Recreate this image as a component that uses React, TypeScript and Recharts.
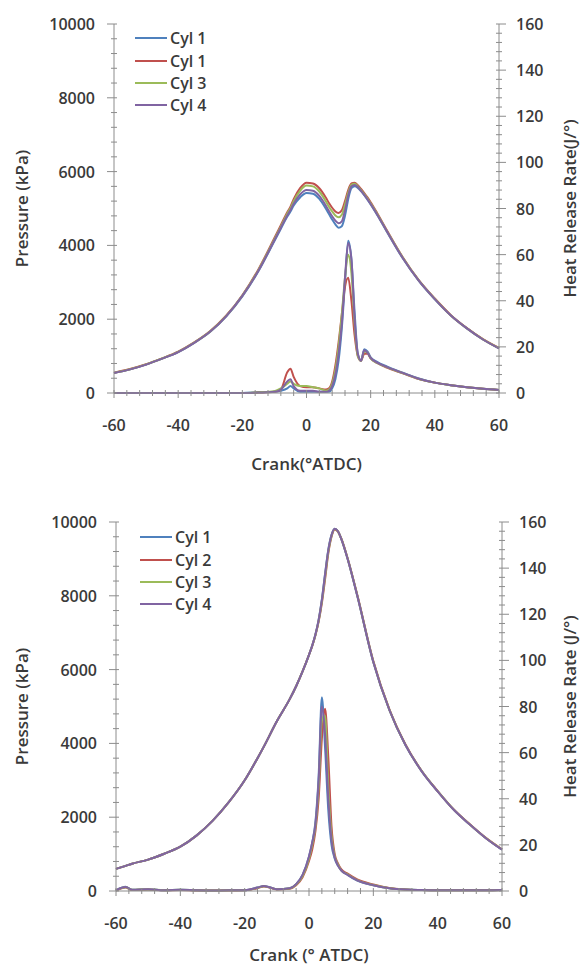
import React from "react";
import { LineChart, Line, XAxis, YAxis, Legend } from "recharts";

const font = "'Open Sans', 'Liberation Sans', sans-serif";
const textColor = "#3a3a3a";
const axisColor = "#8c8c8c";

const cylColors = ["#4F81BD", "#C0504D", "#9BBB59", "#8064A2"];
const names1 = ["Cyl 1", "Cyl 1", "Cyl 3", "Cyl 4"];
const names2 = ["Cyl 1", "Cyl 2", "Cyl 3", "Cyl 4"];

const crankTicks = [-60, -40, -20, 0, 20, 40, 60];
const pressureTicks = [0, 2000, 4000, 6000, 8000, 10000];
const hrrTicks = [0, 20, 40, 60, 80, 100, 120, 140, 160];

// top chart
const crank1 = [-60, -55, -50, -45, -40, -35, -30, -25, -20, -15, -10, -8, -6, -5, -4, -2, 0, 2, 4, 6, 7, 8, 9, 10, 11, 12, 13, 14, 15, 16, 17, 18, 19, 20, 22, 25, 30, 35, 40, 45, 50, 55, 60];
const pCyl1a = [540, 640, 770, 930, 1110, 1360, 1660, 2080, 2620, 3300, 4120, 4450, 4780, 4920, 5080, 5300, 5420, 5400, 5260, 5000, 4850, 4700, 4570, 4480, 4520, 4800, 5250, 5550, 5600, 5560, 5470, 5360, 5240, 5110, 4830, 4380, 3650, 3040, 2540, 2100, 1750, 1450, 1210];
const pCyl1b = [550, 650, 780, 940, 1120, 1370, 1680, 2100, 2650, 3350, 4200, 4550, 4900, 5050, 5250, 5550, 5700, 5680, 5550, 5300, 5150, 5020, 4920, 4880, 4950, 5200, 5500, 5680, 5700, 5630, 5530, 5420, 5300, 5170, 4880, 4420, 3680, 3060, 2560, 2110, 1760, 1460, 1220];
const pCyl3 = [545, 645, 775, 935, 1115, 1365, 1670, 2090, 2640, 3330, 4170, 4510, 4860, 5010, 5200, 5480, 5620, 5600, 5460, 5200, 5050, 4920, 4810, 4760, 4830, 5100, 5430, 5640, 5670, 5600, 5500, 5390, 5270, 5140, 4860, 4400, 3670, 3050, 2550, 2100, 1750, 1455, 1215];
const pCyl4 = [540, 640, 770, 930, 1110, 1360, 1665, 2085, 2630, 3310, 4140, 4480, 4810, 4960, 5130, 5380, 5500, 5480, 5340, 5080, 4930, 4790, 4670, 4600, 4650, 4950, 5350, 5600, 5640, 5580, 5480, 5370, 5250, 5120, 4840, 4390, 3660, 3045, 2545, 2100, 1750, 1450, 1210];
const hCyl1a = [0, 0, 0, 0, 0, 0, 0, 0, 0, 0.3, 0.5, 1, 2, 3, 2, 0.5, 0.5, 0.5, 0.5, 0.5, 0.5, 2, 6, 14, 28, 48, 66, 58, 35, 17, 14, 19, 18, 15.5, 13.5, 11.5, 8.8, 6.3, 4.5, 3.4, 2.5, 1.8, 1.3];
const hCyl1b = [0, 0, 0, 0, 0, 0, 0, 0, 0, 0.2, 0.5, 1.5, 9, 10.5, 7, 3, 2.5, 2.5, 2, 1.5, 2, 5, 12, 22, 34, 46, 50, 40, 25, 16, 14, 17, 17, 15, 13, 11, 8.5, 6, 4.5, 3.4, 2.5, 1.8, 1.3];
const hCyl3 = [0, 0, 0, 0, 0, 0, 0, 0, 0, 0.3, 0.8, 2, 4, 5, 4, 3, 3, 2.5, 2, 1, 1.5, 4, 10, 20, 34, 50, 60, 52, 30, 16, 14, 18, 17.5, 15, 13, 11.2, 8.6, 6.1, 4.5, 3.4, 2.5, 1.8, 1.3];
const hCyl4 = [0, 0, 0, 0, 0, 0, 0, 0, 0, 0.2, 0.5, 1.5, 5, 6, 3, 1, 1, 1, 0.5, 0.5, 1, 3, 8, 17, 30, 50, 65, 58, 32, 17, 14, 18.5, 17.5, 15.2, 13.2, 11.3, 8.7, 6.2, 4.5, 3.4, 2.5, 1.8, 1.3];

// bottom chart
const crank2 = [-60, -57, -55, -50, -45, -40, -35, -30, -25, -20, -16, -14, -10, -6, -4, -2, 0, 1, 2, 3, 4, 5, 6, 7, 8, 9, 10, 12, 15, 20, 25, 30, 35, 40, 45, 50, 55, 60];
const pB1 = [600, 680, 740, 850, 1010, 1200, 1500, 1900, 2400, 3000, 3600, 3920, 4600, 5200, 5550, 5950, 6400, 6650, 6950, 7350, 7900, 8600, 9250, 9650, 9820, 9750, 9550, 9000, 8000, 6200, 4900, 3950, 3250, 2700, 2200, 1800, 1430, 1120];
const pB2 = [600, 680, 740, 850, 1010, 1200, 1500, 1900, 2400, 3000, 3600, 3920, 4600, 5200, 5550, 5950, 6400, 6640, 6930, 7300, 7800, 8450, 9150, 9600, 9800, 9740, 9560, 9020, 8030, 6230, 4920, 3970, 3260, 2710, 2210, 1810, 1440, 1130];
const pB3 = [600, 680, 740, 850, 1010, 1200, 1500, 1900, 2400, 3000, 3600, 3920, 4600, 5200, 5550, 5950, 6400, 6645, 6940, 7320, 7850, 8520, 9200, 9620, 9810, 9745, 9555, 9010, 8015, 6215, 4910, 3960, 3255, 2705, 2205, 1805, 1435, 1125];
const pB4 = [600, 680, 740, 850, 1010, 1200, 1500, 1900, 2400, 3000, 3600, 3920, 4600, 5200, 5550, 5950, 6400, 6650, 6950, 7340, 7880, 8580, 9230, 9640, 9815, 9750, 9550, 9005, 8005, 6205, 4905, 3955, 3250, 2700, 2200, 1800, 1430, 1120];
const hB1 = [0.3, 1.8, 0.5, 0.8, 0.3, 0.5, 0.3, 0.2, 0.3, 0.3, 1.5, 2.2, 0.8, 1.2, 3, 7, 15, 21, 30, 50, 84, 62, 35, 20, 14, 11, 9, 7, 4.5, 2.5, 1.2, 0.6, 0.4, 0.3, 0.3, 0.3, 0.3, 0.4];
const hB2 = [0.2, 1.5, 0.4, 0.6, 0.3, 0.4, 0.2, 0.2, 0.2, 0.3, 1.2, 2, 0.7, 1, 2.5, 6, 13, 18, 26, 40, 66, 79, 58, 28, 16, 12, 9.5, 7.5, 5, 2.8, 1.3, 0.7, 0.4, 0.3, 0.3, 0.3, 0.3, 0.4];
const hB3 = [0.3, 1.6, 0.5, 0.7, 0.3, 0.5, 0.3, 0.2, 0.3, 0.3, 1.4, 2.1, 0.8, 1.1, 2.8, 6.5, 14, 20, 28, 45, 74, 76, 45, 24, 15, 11.5, 9, 7.2, 4.7, 2.6, 1.2, 0.6, 0.4, 0.3, 0.3, 0.3, 0.3, 0.4];
const hB4 = [0.3, 1.7, 0.5, 0.8, 0.3, 0.5, 0.3, 0.2, 0.3, 0.3, 1.5, 2.2, 0.8, 1.2, 3, 7, 15, 21, 29, 48, 80, 68, 40, 22, 14.5, 11, 9, 7, 4.6, 2.5, 1.2, 0.6, 0.4, 0.3, 0.3, 0.3, 0.3, 0.4];

const buildRows = (crank: number[], p: number[][], h: number[][]) =>
  crank.map((c, i) => ({
    crank: c,
    p0: p[0][i], p1: p[1][i], p2: p[2][i], p3: p[3][i],
    h0: h[0][i], h1: h[1][i], h2: h[2][i], h3: h[3][i],
  }));

const rows1 = buildRows(crank1, [pCyl1a, pCyl1b, pCyl3, pCyl4], [hCyl1a, hCyl1b, hCyl3, hCyl4]);
const rows2 = buildRows(crank2, [pB1, pB2, pB3, pB4], [hB1, hB2, hB3, hB4]);

// major ticks get labels, minor ticks (1/5 of major step) only a small mark
const withMinor = (major: number[]) => {
  const step = (major[1] - major[0]) / 5;
  const out: number[] = [];
  for (let v = major[0]; v <= major[major.length - 1] + 1e-9; v += step) out.push(Math.round(v * 100) / 100);
  return out;
};

const tickText = { fontFamily: font, fontSize: 16, fontWeight: 600, fill: textColor };

const makeTick = (side: "bottom" | "left" | "right", major: number[]) => (props: any) => {
  const { x, y, payload } = props;
  const isMajor = major.includes(payload.value);
  if (side === "bottom") {
    return (
      <g>
        <line x1={x} x2={x} y1={y - 3} y2={y + (isMajor ? 5 : 3)} stroke={axisColor} />
        {isMajor && <text x={x} y={y + 32} textAnchor="middle" dominantBaseline="central" {...tickText}>{payload.value}</text>}
      </g>
    );
  }
  if (side === "left") {
    return (
      <g>
        <line x1={isMajor ? x - 7 : x - 3} x2={x + 3} y1={y} y2={y} stroke={axisColor} />
        {isMajor && <text x={x - 19} y={y} textAnchor="end" dominantBaseline="central" {...tickText}>{payload.value}</text>}
      </g>
    );
  }
  return (
    <g>
      <line x1={x - 3} x2={isMajor ? x + 7 : x + 3} y1={y} y2={y} stroke={axisColor} />
      {isMajor && <text x={x + 17} y={y} textAnchor="start" dominantBaseline="central" {...tickText}>{payload.value}</text>}
    </g>
  );
};

const LegendBox = ({ names }: { names: string[] }) => (
  <div style={{ fontFamily: font, fontSize: 16, fontWeight: 600, color: textColor, lineHeight: 1 }}>
    {names.map((n, i) => (
      <div key={i} style={{ display: "flex", alignItems: "center", height: 22.4 }}>
        <span style={{ display: "inline-block", width: 32, height: 2, background: cylColors[i], marginRight: 3 }} />
        <span>{n}</span>
      </div>
    ))}
  </div>
);

type PanelProps = {
  rows: any[];
  names: string[];
  xTitle: string;
  yRightTitle: string;
  height: number;
  top: number;
  left: number;
  right: number;
  bottom: number;
  legendLeft: number;
  legendTop: number;
  xTitleOffset: number;
};

const EnginePanel = ({ rows, names, xTitle, yRightTitle, height, top, left, right, bottom, legendLeft, legendTop, xTitleOffset }: PanelProps) => (
  <LineChart width={588} height={height} data={rows} margin={{ top, left: 0, right: 0, bottom: 0 }}>
    <XAxis
      dataKey="crank"
      type="number"
      domain={[-60, 60]}
      ticks={withMinor(crankTicks)}
      interval={0}
      tickSize={0}
      tickMargin={0}
      tick={makeTick("bottom", crankTicks)}
      axisLine={{ stroke: axisColor }}
      height={bottom}
      label={{ value: xTitle, position: "insideBottom", offset: xTitleOffset, style: { fontFamily: font, fontSize: 17, fontWeight: 600, fill: textColor } }}
    />
    <YAxis
      yAxisId="p"
      domain={[0, 10000]}
      ticks={withMinor(pressureTicks)}
      interval={0}
      tickSize={0}
      tickMargin={0}
      tick={makeTick("left", pressureTicks)}
      axisLine={{ stroke: axisColor }}
      width={left}
      label={{ value: "Pressure (kPa)", angle: -90, position: "insideLeft", offset: 22, style: { textAnchor: "middle", fontFamily: font, fontSize: 17, fontWeight: 600, fill: textColor } }}
    />
    <YAxis
      yAxisId="h"
      orientation="right"
      domain={[0, 160]}
      ticks={withMinor(hrrTicks)}
      interval={0}
      tickSize={0}
      tickMargin={0}
      tick={makeTick("right", hrrTicks)}
      axisLine={{ stroke: axisColor }}
      width={right}
      label={{ value: yRightTitle, angle: -90, position: "insideRight", offset: 18, style: { textAnchor: "middle", fontFamily: font, fontSize: 17, fontWeight: 600, fill: textColor } }}
    />
    <Legend
      layout="vertical"
      align="center"
      verticalAlign="middle"
      wrapperStyle={{ left: legendLeft, top: legendTop, width: 90 }}
      content={() => <LegendBox names={names} />}
    />
    {[0, 1, 2, 3].map((i) => (
      <Line key={"p" + i} yAxisId="p" dataKey={"p" + i} name={names[i]} type="monotone" stroke={cylColors[i]} strokeWidth={2} dot={false} isAnimationActive={false} />
    ))}
    {[0, 1, 2, 3].map((i) => (
      <Line key={"h" + i} yAxisId="h" dataKey={"h" + i} name={names[i] + " HRR"} legendType="none" type="monotone" stroke={cylColors[i]} strokeWidth={2} dot={false} isAnimationActive={false} />
    ))}
  </LineChart>
);

export default function App() {
  return (
    <div style={{ position: "absolute", left: 0, top: 0, width: 588, height: 967, background: "#fff" }}>
      <EnginePanel
        rows={rows1}
        names={names1}
        xTitle="Crank(°ATDC)"
        yRightTitle="Heat Release Rate(J/°)"
        height={480}
        top={24}
        left={114}
        right={89}
        bottom={87}
        legendLeft={135}
        legendTop={27}
        xTitleOffset={10}
      />
      <EnginePanel
        rows={rows2}
        names={names2}
        xTitle="Crank (° ATDC)"
        yRightTitle="Heat Release Rate (J/°)"
        height={487}
        top={42}
        left={116}
        right={86}
        bottom={76}
        legendLeft={140}
        legendTop={46}
        xTitleOffset={6}
      />
    </div>
  );
}
